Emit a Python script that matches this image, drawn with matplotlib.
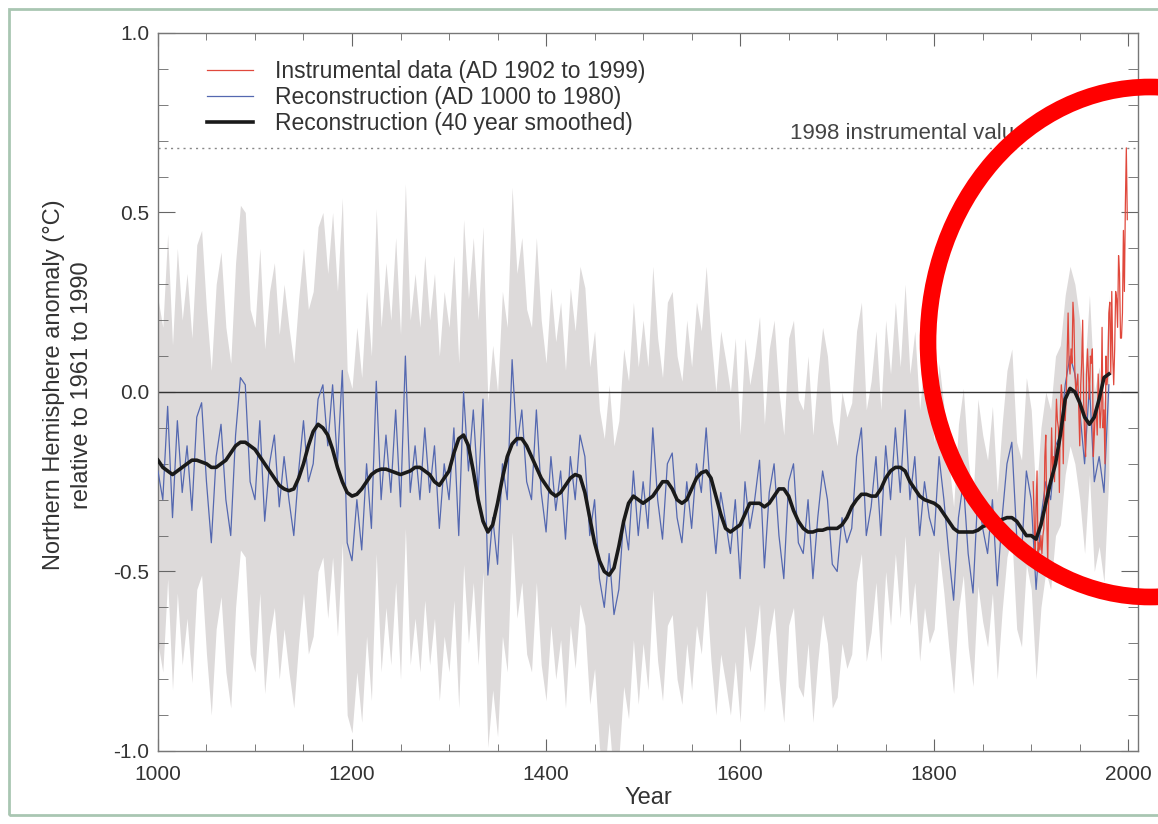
import matplotlib
matplotlib.use("Agg")
import matplotlib.pyplot as plt
from matplotlib.patches import Ellipse, Rectangle
from matplotlib.ticker import MultipleLocator, FormatStrFormatter
import numpy as np

plt.rcParams['font.family'] = ['Liberation Sans', 'DejaVu Sans']

# reconstruction, read every 5 years (AD 1000 to 1980)
recon_years = np.arange(1000, 1981, 5)
recon = [
    -0.22, -0.30, -0.04, -0.35, -0.08, -0.28, -0.15, -0.33, -0.07, -0.03,
    -0.25, -0.42, -0.18, -0.09, -0.30, -0.40, -0.12, 0.04, 0.02, -0.25,
    -0.30, -0.08, -0.36, -0.20, -0.12, -0.32, -0.18, -0.30, -0.40, -0.22,
    -0.08, -0.25, -0.20, -0.02, 0.02, -0.15, 0.02, -0.20, 0.06, -0.42,
    -0.47, -0.30, -0.44, -0.20, -0.38, 0.03, -0.30, -0.12, -0.28, -0.05,
    -0.32, 0.10, -0.28, -0.15, -0.30, -0.10, -0.28, -0.15, -0.38, -0.20,
    -0.30, -0.10, -0.40, 0.00, -0.22, -0.05, -0.28, -0.02, -0.51, -0.35,
    -0.48, -0.20, -0.30, 0.09, -0.15, -0.05, -0.25, -0.30, -0.05, -0.28,
    -0.39, -0.18, -0.33, -0.22, -0.41, -0.18, -0.30, -0.12, -0.18, -0.40,
    -0.30, -0.52, -0.60, -0.45, -0.62, -0.55, -0.35, -0.44, -0.22, -0.40,
    -0.25, -0.38, -0.10, -0.30, -0.41, -0.20, -0.17, -0.35, -0.42, -0.25,
    -0.38, -0.20, -0.28, -0.10, -0.30, -0.45, -0.28, -0.36, -0.45, -0.30,
    -0.52, -0.25, -0.38, -0.30, -0.19, -0.49, -0.28, -0.20, -0.40, -0.52,
    -0.25, -0.20, -0.42, -0.45, -0.30, -0.52, -0.35, -0.22, -0.30, -0.48,
    -0.50, -0.35, -0.42, -0.38, -0.18, -0.10, -0.40, -0.32, -0.18, -0.40,
    -0.15, -0.30, -0.10, -0.28, -0.05, -0.30, -0.18, -0.40, -0.25, -0.35,
    -0.40, -0.18, -0.30, -0.45, -0.58, -0.35, -0.25, -0.45, -0.56, -0.28,
    -0.38, -0.45, -0.30, -0.54, -0.35, -0.20, -0.14, -0.40, -0.45, -0.22,
    -0.30, -0.55, -0.35, -0.25, -0.30, -0.15, -0.12, 0.02, 0.10, 0.05,
    -0.05, -0.20, 0.02, -0.25, -0.18, -0.28, 0.02,
]

# 40 year smoothed reconstruction, same years
smooth = [
    -0.19, -0.21, -0.22, -0.23, -0.22, -0.21, -0.20, -0.19, -0.19, -0.195,
    -0.20, -0.21, -0.21, -0.20, -0.19, -0.17, -0.15, -0.14, -0.14, -0.15,
    -0.16, -0.18, -0.20, -0.22, -0.24, -0.26, -0.27, -0.275, -0.27, -0.24,
    -0.20, -0.15, -0.11, -0.09, -0.10, -0.12, -0.16, -0.21, -0.25, -0.28,
    -0.29, -0.285, -0.27, -0.25, -0.23, -0.22, -0.215, -0.215, -0.22, -0.225,
    -0.23, -0.225, -0.22, -0.21, -0.21, -0.22, -0.23, -0.25, -0.26, -0.24,
    -0.22, -0.17, -0.13, -0.12, -0.15, -0.22, -0.30, -0.36, -0.39, -0.37,
    -0.31, -0.24, -0.18, -0.145, -0.13, -0.13, -0.15, -0.18, -0.21, -0.24,
    -0.26, -0.28, -0.29, -0.28, -0.26, -0.24, -0.23, -0.235, -0.28, -0.35,
    -0.42, -0.47, -0.50, -0.51, -0.49, -0.43, -0.36, -0.31, -0.29, -0.30,
    -0.31, -0.30, -0.29, -0.27, -0.25, -0.25, -0.27, -0.30, -0.31, -0.30,
    -0.27, -0.24, -0.225, -0.22, -0.24, -0.29, -0.34, -0.38, -0.39, -0.38,
    -0.37, -0.34, -0.31, -0.31, -0.31, -0.32, -0.31, -0.29, -0.27, -0.27,
    -0.29, -0.33, -0.36, -0.38, -0.39, -0.39, -0.385, -0.385, -0.38, -0.38,
    -0.38, -0.37, -0.35, -0.32, -0.30, -0.285, -0.285, -0.29, -0.29, -0.27,
    -0.24, -0.22, -0.21, -0.21, -0.22, -0.25, -0.27, -0.29, -0.30, -0.305,
    -0.31, -0.32, -0.34, -0.36, -0.38, -0.39, -0.39, -0.39, -0.39, -0.385,
    -0.375, -0.37, -0.37, -0.36, -0.355, -0.35, -0.35, -0.36, -0.38, -0.40,
    -0.40, -0.41, -0.37, -0.31, -0.25, -0.20, -0.12, -0.02, 0.01, 0.00,
    -0.03, -0.07, -0.09, -0.07, -0.02, 0.04, 0.05,
]

# uncertainty half width per century (1000s ... 1900s)
band_halfwidth = [0.48, 0.48, 0.48, 0.48, 0.47, 0.45, 0.40, 0.35, 0.26, 0.25]

# instrumental data AD 1902 to 1999
instr_years = np.arange(1902, 2000)
instr = [
    -0.25, -0.35, -0.48, -0.32, -0.22, -0.45, -0.42, -0.44, -0.40, -0.45,
    -0.40, -0.38, -0.18, -0.12, -0.35, -0.48, -0.30, -0.25, -0.24, -0.10,
    -0.22, -0.18, -0.25, -0.12, -0.02, -0.08, -0.10, -0.28, -0.05, 0.02,
    -0.02, -0.20, -0.02, -0.08, -0.02, 0.10, 0.22, 0.08, 0.05, 0.12,
    0.08, 0.25, 0.20, 0.05, 0.00, 0.02, 0.05, -0.05, -0.15, 0.02,
    0.08, 0.20, -0.02, -0.12, -0.18, 0.05, 0.12, 0.05, -0.02, 0.10,
    0.08, 0.12, -0.18, -0.12, -0.05, -0.05, -0.12, 0.05, -0.02, -0.10,
    -0.05, 0.18, -0.10, -0.05, -0.20, 0.10, 0.02, 0.05, 0.22, 0.25,
    0.05, 0.28, 0.10, 0.02, 0.12, 0.28, 0.26, 0.18, 0.38, 0.33,
    0.15, 0.15, 0.22, 0.45, 0.28, 0.52, 0.68, 0.48,
]
value_1998 = 0.68

recon = np.array(recon)
hw = np.array([band_halfwidth[min((y - 1000) // 100, 9)] for y in recon_years])

fig = plt.figure(figsize=(11.58, 8.24), dpi=100)
ax = fig.add_axes([0.1364, 0.0886, 0.8463, 0.8714])

ax.fill_between(recon_years, recon - hw, recon + hw, color="#dddada", lw=0, zorder=1)
ax.axhline(0, color="#333333", lw=1.0, zorder=2)
ax.axhline(value_1998, color="#888888", lw=1.0, ls=(0, (1.5, 3)), zorder=2)
ax.plot(recon_years, recon, color="#5468b0", lw=0.9, zorder=3,
        label="Reconstruction (AD 1000 to 1980)")
ax.plot(instr_years, instr, color="#e0483c", lw=0.9, zorder=4,
        label="Instrumental data (AD 1902 to 1999)")
ax.plot(recon_years, smooth, color="#1a1a1a", lw=2.6, zorder=5,
        label="Reconstruction (40 year smoothed)")

ax.text(1651, 0.69, "1998 instrumental value", fontsize=16, color="#444444",
        va="bottom", ha="left")

ax.set_xlim(1000, 2010)
ax.set_ylim(-1.0, 1.0)
ax.xaxis.set_major_locator(MultipleLocator(200))
ax.xaxis.set_minor_locator(MultipleLocator(50))
ax.yaxis.set_major_locator(MultipleLocator(0.5))
ax.yaxis.set_minor_locator(MultipleLocator(0.1))
ax.yaxis.set_major_formatter(FormatStrFormatter("%.1f"))
ax.tick_params(which="both", direction="in", top=True, right=True,
               colors="#666666", labelcolor="#333333", labelsize=15)
ax.tick_params(axis="x", which="major", length=9, pad=10)
ax.tick_params(axis="x", which="minor", length=5)
ax.tick_params(axis="y", which="major", length=12, pad=6)
ax.tick_params(axis="y", which="minor", length=7)
for s in ax.spines.values():
    s.set_color("#777777")
    s.set_linewidth(1.0)

ax.set_xlabel("Year", fontsize=17, color="#333333")
ax.xaxis.set_label_coords(0.5, -0.05)
ax.set_ylabel("Northern Hemisphere anomaly (\u00b0C)\nrelative to 1961 to 1990",
              fontsize=17, color="#333333", linespacing=1.35)
ax.yaxis.set_label_coords(-0.066, 0.51)

handles, labels = ax.get_legend_handles_labels()
order = [1, 0, 2]
ax.legend([handles[i] for i in order], [labels[i] for i in order],
          loc="upper left", bbox_to_anchor=(0.05, 0.962), frameon=False,
          borderpad=0, borderaxespad=0,
          fontsize=16.5, handlelength=2.0, handletextpad=0.95, labelspacing=0.12,
          labelcolor="#333333")

# outer frame and red ellipse annotation
fig.add_artist(Rectangle((9 / 1158, 9 / 824), 1.0, 806 / 824, transform=fig.transFigure,
                         fill=False, edgecolor="#a9c6b2", lw=2))
fig.add_artist(Ellipse((1150 / 1158, 1 - 342 / 824), 444 / 1158, 510 / 824,
                       transform=fig.transFigure, fill=False, edgecolor="#ff0000",
                       lw=12, zorder=10))

fig.savefig("out.png", dpi=100)
